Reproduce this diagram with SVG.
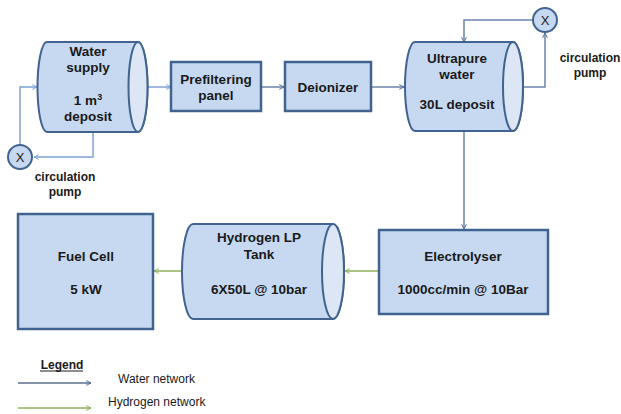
<svg xmlns="http://www.w3.org/2000/svg" width="621" height="414" viewBox="0 0 621 414">
  <style>
    .box { fill: #C6D9F1; stroke: #41638F; stroke-width: 2.5; }
    .cyl { fill: #C6D9F1; stroke: #41638F; stroke-width: 2; }
    .face { fill: #DCE6F4; stroke: #41638F; stroke-width: 2; }
    .pump { fill: #C6D9F1; stroke: #41638F; stroke-width: 2; }
    .lbl { font-family: "Liberation Sans", Arial, sans-serif; font-weight: bold; font-size: 13.5px; fill: #1a1a1a; text-anchor: middle; }
    .small { font-family: "Liberation Sans", Arial, sans-serif; font-weight: bold; font-size: 12px; fill: #1a1a1a; text-anchor: middle; }
    .x { font-family: "Liberation Sans", Arial, sans-serif; font-size: 13px; fill: #1a1a1a; text-anchor: middle; }
    .leg { font-family: "Liberation Sans", Arial, sans-serif; font-size: 12px; fill: #1a1a1a; }
    .w1 { fill: none; stroke: #7FA2D6; stroke-width: 1.5; marker-end: url(#ah-light); }
    .w2 { fill: none; stroke: #6A84A8; stroke-width: 1.5; marker-end: url(#ah-dark); }
    .h2 { fill: none; stroke: #8DB05C; stroke-width: 1.5; marker-end: url(#ah-green); }
  </style>
  <defs>
    <marker id="ah-light" viewBox="0 0 10 10" refX="9" refY="5" markerWidth="6" markerHeight="6" orient="auto" markerUnits="userSpaceOnUse">
      <path d="M1,1 L9,5 L1,9" fill="none" stroke="#7FA2D6" stroke-width="1.6"/>
    </marker>
    <marker id="ah-dark" viewBox="0 0 10 10" refX="9" refY="5" markerWidth="6" markerHeight="6" orient="auto" markerUnits="userSpaceOnUse">
      <path d="M1,1 L9,5 L1,9" fill="none" stroke="#4F6A8F" stroke-width="1.6"/>
    </marker>
    <marker id="ah-green" viewBox="0 0 10 10" refX="9" refY="5" markerWidth="6" markerHeight="6" orient="auto" markerUnits="userSpaceOnUse">
      <path d="M1,1 L9,5 L1,9" fill="none" stroke="#8DB05C" stroke-width="1.6"/>
    </marker>
  </defs>

  <rect width="621" height="414" fill="#ffffff"/>

  <!-- connectors -->
  <g id="connectors">
    <polyline class="w1" points="20,145 20,87 37,87"/>
    <polyline class="w1" points="93,132 93,157 34,157"/>
    <line class="w1" x1="148" y1="87" x2="171" y2="87"/>
    <line class="w2" x1="261" y1="87" x2="284" y2="87"/>
    <line class="w2" x1="371" y1="87" x2="404" y2="87"/>
    <polyline class="w2" points="523,87 545,87 545,33"/>
    <polyline class="w2" points="533,20 464,20 464,42"/>
    <line class="w2" x1="464" y1="131" x2="464" y2="229"/>
    <line class="h2" x1="379" y1="271" x2="345" y2="271"/>
    <line class="h2" x1="182" y1="271" x2="154" y2="271"/>
  </g>

  <!-- water supply deposit -->
  <g id="water-supply">
    <path class="cyl" d="M47,42 L138,42 A9.5,45 0 0 1 138,132 L47,132 A9.5,45 0 0 1 47,42 Z"/>
    <ellipse class="face" cx="138" cy="87" rx="9.5" ry="45"/>
    <text class="lbl" x="88" y="56">Water</text>
    <text class="lbl" x="88" y="72">supply</text>
    <text class="lbl" x="88" y="105">1 m<tspan font-size="9" dy="-5">3</tspan></text>
    <text class="lbl" x="88" y="121">deposit</text>
  </g>

  <g id="pump-1">
    <circle class="pump" cx="20" cy="157" r="12"/>
    <text class="x" x="20" y="162">X</text>
    <text class="small" x="65" y="181">circulation</text>
    <text class="small" x="65" y="196">pump</text>
  </g>

  <g id="prefilter">
    <rect class="box" x="171" y="62" width="90" height="49"/>
    <text class="lbl" x="216" y="84">Prefiltering</text>
    <text class="lbl" x="216" y="100">panel</text>
  </g>

  <g id="deionizer">
    <rect class="box" x="285" y="62" width="86" height="49"/>
    <text class="lbl" x="328" y="92">Deionizer</text>
  </g>

  <!-- ultrapure water deposit -->
  <g id="ultrapure">
    <path class="cyl" d="M415,42 L513,42 A10,44.5 0 0 1 513,131 L415,131 A10,44.5 0 0 1 415,42 Z"/>
    <ellipse class="face" cx="513" cy="86.5" rx="10" ry="44.5"/>
    <text class="lbl" x="457" y="63">Ultrapure</text>
    <text class="lbl" x="457" y="79">water</text>
    <text class="lbl" x="457" y="109">30L deposit</text>
  </g>

  <g id="pump-2">
    <circle class="pump" cx="545" cy="20" r="12"/>
    <text class="x" x="545" y="25">X</text>
    <text class="small" x="590" y="62">circulation</text>
    <text class="small" x="590" y="77">pump</text>
  </g>

  <g id="electrolyser">
    <rect class="box" x="379" y="230" width="169" height="84"/>
    <text class="lbl" x="463" y="261">Electrolyser</text>
    <text class="lbl" x="463" y="294">1000cc/min @ 10Bar</text>
  </g>

  <!-- hydrogen low-pressure tank -->
  <g id="h2-tank">
    <path class="cyl" d="M193,224 L333,224 A11,47.5 0 0 1 333,319 L193,319 A11,47.5 0 0 1 193,224 Z"/>
    <ellipse class="face" cx="333" cy="271.5" rx="11" ry="47.5"/>
    <text class="lbl" x="259" y="242">Hydrogen LP</text>
    <text class="lbl" x="259" y="259">Tank</text>
    <text class="lbl" x="259" y="294">6X50L @ 10bar</text>
  </g>

  <g id="fuel-cell">
    <rect class="box" x="18" y="214" width="135" height="115"/>
    <text class="lbl" x="86" y="261">Fuel Cell</text>
    <text class="lbl" x="86" y="294">5 kW</text>
  </g>

  <!-- legend -->
  <g id="legend">
    <text class="small" x="62" y="369" font-size="11.5">Legend</text>
    <line x1="40" y1="371" x2="83" y2="371" stroke="#1a1a1a" stroke-width="1"/>
    <line x1="18" y1="383" x2="91" y2="383" stroke="#5A6F8F" stroke-width="1.5" marker-end="url(#ah-dark)"/>
    <text class="leg" x="118" y="383">Water network</text>
    <line x1="18" y1="408" x2="91" y2="408" stroke="#8DB05C" stroke-width="1.5" marker-end="url(#ah-green)"/>
    <text class="leg" x="108" y="406">Hydrogen network</text>
  </g>
</svg>
